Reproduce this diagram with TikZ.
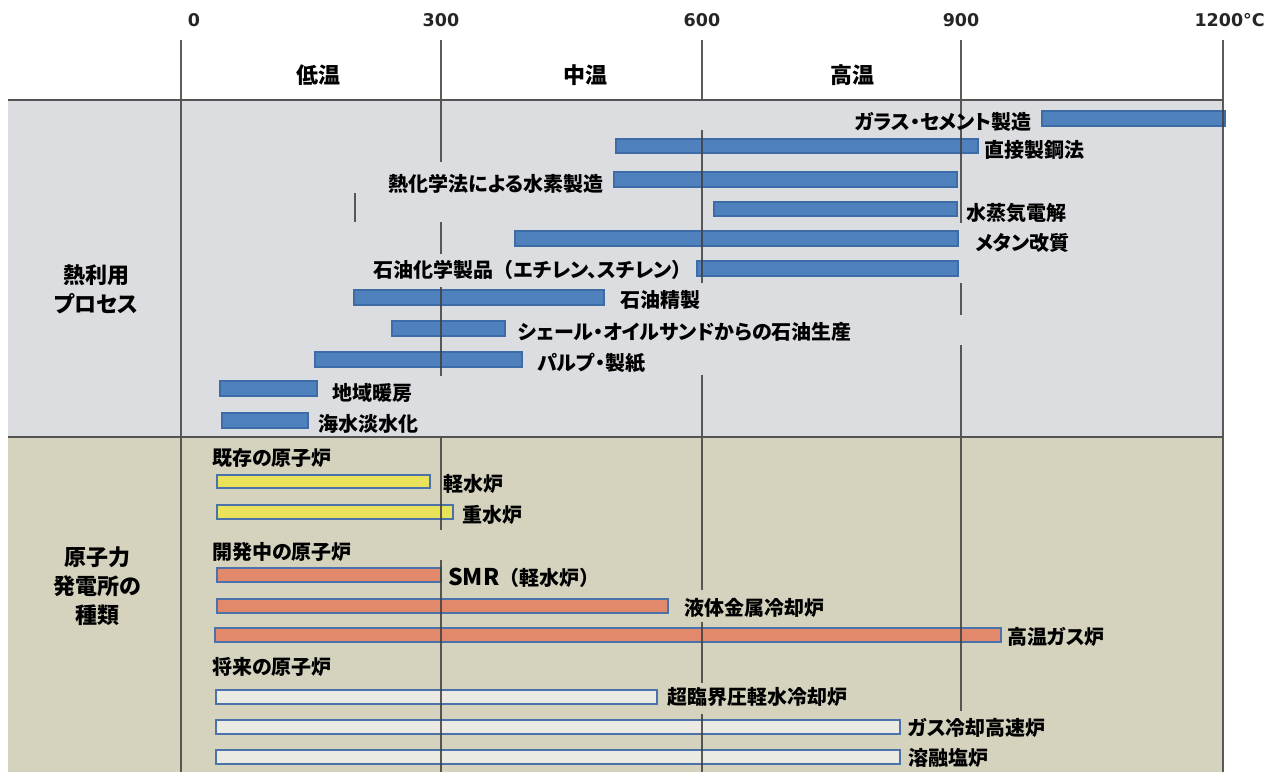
\documentclass[tikz,border=0pt]{standalone}
\usepackage{fontspec}
\newfontfamily\jp[RawFeature=+palt]{Noto Sans CJK JP}
\newfontfamily\jpf{Noto Sans CJK JP}
\newfontfamily\numf{DejaVu Sans}
\definecolor{upperbg}{HTML}{DCDDE0}
\definecolor{lowerbg}{HTML}{D5D2BE}
\definecolor{barblue}{HTML}{4F81BD}
\definecolor{barblueedge}{HTML}{3D6CA8}
\definecolor{baryellow}{HTML}{EAE25A}
\definecolor{barorange}{HTML}{E3896B}
\definecolor{barlight}{HTML}{ECEBE3}
\definecolor{baredge}{HTML}{4A72AB}
\definecolor{linegray}{HTML}{404040}
\begin{document}
\begin{tikzpicture}[x=1pt,y=-1pt,
  bluebar/.style={fill=barblue,draw=barblueedge,line width=1.3pt},
  ybar/.style={fill=baryellow,draw=baredge,line width=2.2pt},
  obar/.style={fill=barorange,draw=baredge,line width=2.2pt},
  lbar/.style={fill=barlight,draw=baredge,line width=2.2pt},
  vline/.style={draw=linegray,line width=2pt,opacity=0.85},
  hline/.style={draw=linegray!90,line width=2.4pt},
  lbl/.style={inner sep=0pt,font=\jp\bfseries\fontsize{20}{24}\selectfont,text=black},
  sidelbl/.style={inner sep=0pt,align=center,font=\jp\bfseries\fontsize{22}{29}\selectfont,text=black},
  zone/.style={inner sep=0pt,font=\jp\bfseries\fontsize{22}{26}\selectfont,text=black},
  tick/.style={inner sep=0pt,font=\numf\bfseries\fontsize{17.5}{20}\selectfont,text=black!85}]
\useasboundingbox (0,0) rectangle (1265,772);
\fill[white] (0,0) rectangle (1265,772);
\fill[upperbg] (8,100) rectangle (1223,437);
\fill[lowerbg] (8,437) rectangle (1223,772);

% heat utilisation bars
\draw[bluebar] (1042,111) rectangle (1225,126);
\draw[bluebar] (616,139) rectangle (978,153);
\draw[bluebar] (614,172) rectangle (957,187);
\draw[bluebar] (714,202) rectangle (957,216);
\draw[bluebar] (515,231) rectangle (958,246);
\draw[bluebar] (697,261) rectangle (958,276);
\draw[bluebar] (354,290) rectangle (604,305);
\draw[bluebar] (392,321) rectangle (505,336);
\draw[bluebar] (315,352) rectangle (522,367);
\draw[bluebar] (220,381) rectangle (317,396);
\draw[bluebar] (222,413) rectangle (308,428);

% reactor bars
\draw[ybar] (217,475) rectangle (430,488);
\draw[ybar] (217,505) rectangle (453,519);
\draw[obar] (217,568) rectangle (441,582);
\draw[obar] (217,599) rectangle (668,613);
\draw[obar] (215,628) rectangle (1001,642);
\draw[lbar] (216,690) rectangle (657,704);
\draw[lbar] (216,720) rectangle (900,734);
\draw[lbar] (216,750) rectangle (900,764);

% vertical lines
\draw[vline] (181,40) -- (181,772);
\draw[vline] (1223,40) -- (1223,772);
\draw[vline] (441,40) -- (441,162);
\draw[vline] (441,222) -- (441,254);
\draw[vline] (441,287) -- (441,376);
\draw[vline] (441,437) -- (441,530);
\draw[vline] (441,560) -- (441,772);
\draw[vline] (702,40) -- (702,100);
\draw[vline] (702,130) -- (702,283);
\draw[vline] (702,375) -- (702,590);
\draw[vline] (702,622) -- (702,683);
\draw[vline] (702,714) -- (702,772);
\draw[vline] (961,40) -- (961,223);
\draw[vline] (961,283) -- (961,315);
\draw[vline] (961,345) -- (961,711);
\draw[vline] (355,193) -- (355,222);

% horizontal borders
\draw[hline] (8,100) -- (1223,100);
\draw[hline] (8,437) -- (1223,437);

% header
\node[tick] (t0) at (194,20) {0};
\node[tick] (t300) at (441,20) {300};
\node[tick] (t600) at (702,20) {600};
\node[tick] (t900) at (961,20) {900};
\node[tick,anchor=east] (t1200) at (1265,20) {1200°C};
\node[zone] (low) at (318,75) {低温};
\node[zone] (mid) at (585,75) {中温};
\node[zone] (high) at (852,75) {高温};

% side labels
\node[sidelbl] (heat) at (96,289) {熱利用\\プロセス};
\node[sidelbl] (nuc) at (97,586) {原子力\\発電所の\\種類};

% heat labels
\node[lbl,anchor=east] (glass) at (1032,122) {ガラス・セメント製造};
\node[lbl,anchor=west] (steel) at (984,150) {直接製鋼法};
\node[lbl,anchor=east] (thermo) at (604,184) {熱化学法による水素製造};
\node[lbl,anchor=west] (steam) at (966,213) {水蒸気電解};
\node[lbl,anchor=west] (methane) at (975,243) {メタン改質};
\node[lbl,anchor=east] (petchem) at (692,270) {石油化学製品{\jpf （}エチレン、スチレン{\jpf ）}};
\node[lbl,anchor=west] (refine) at (620,300) {石油精製};
\node[lbl,anchor=west] (shale) at (518,332) {シェール・オイルサンドからの石油生産};
\node[lbl,anchor=west] (pulp) at (537,363) {パルプ・製紙};
\node[lbl,anchor=west] (district) at (332,393) {地域暖房};
\node[lbl,anchor=west] (desal) at (318,424) {海水淡水化};

% reactor labels
\node[lbl,anchor=west] (exist) at (212,458) {既存の原子炉};
\node[lbl,anchor=west] (lwr) at (443,484) {軽水炉};
\node[lbl,anchor=west] (hwr) at (462,515) {重水炉};
\node[lbl,anchor=west] (dev) at (212,552) {開発中の原子炉};
\node[lbl,anchor=west] (smr) at (448,578) {{\fontsize{23}{24}\selectfont SMR}{\jpf （}軽水炉{\jpf ）}};
\node[lbl,anchor=west] (lmr) at (684,608) {液体金属冷却炉};
\node[lbl,anchor=west] (htgr) at (1007,637) {高温ガス炉};
\node[lbl,anchor=west] (future) at (212,667) {将来の原子炉};
\node[lbl,anchor=west] (scwr) at (667,697) {超臨界圧軽水冷却炉};
\node[lbl,anchor=west] (gfr) at (908,728) {ガス冷却高速炉};
\node[lbl,anchor=west] (msr) at (908,758) {溶融塩炉};
\end{tikzpicture}
\end{document}
